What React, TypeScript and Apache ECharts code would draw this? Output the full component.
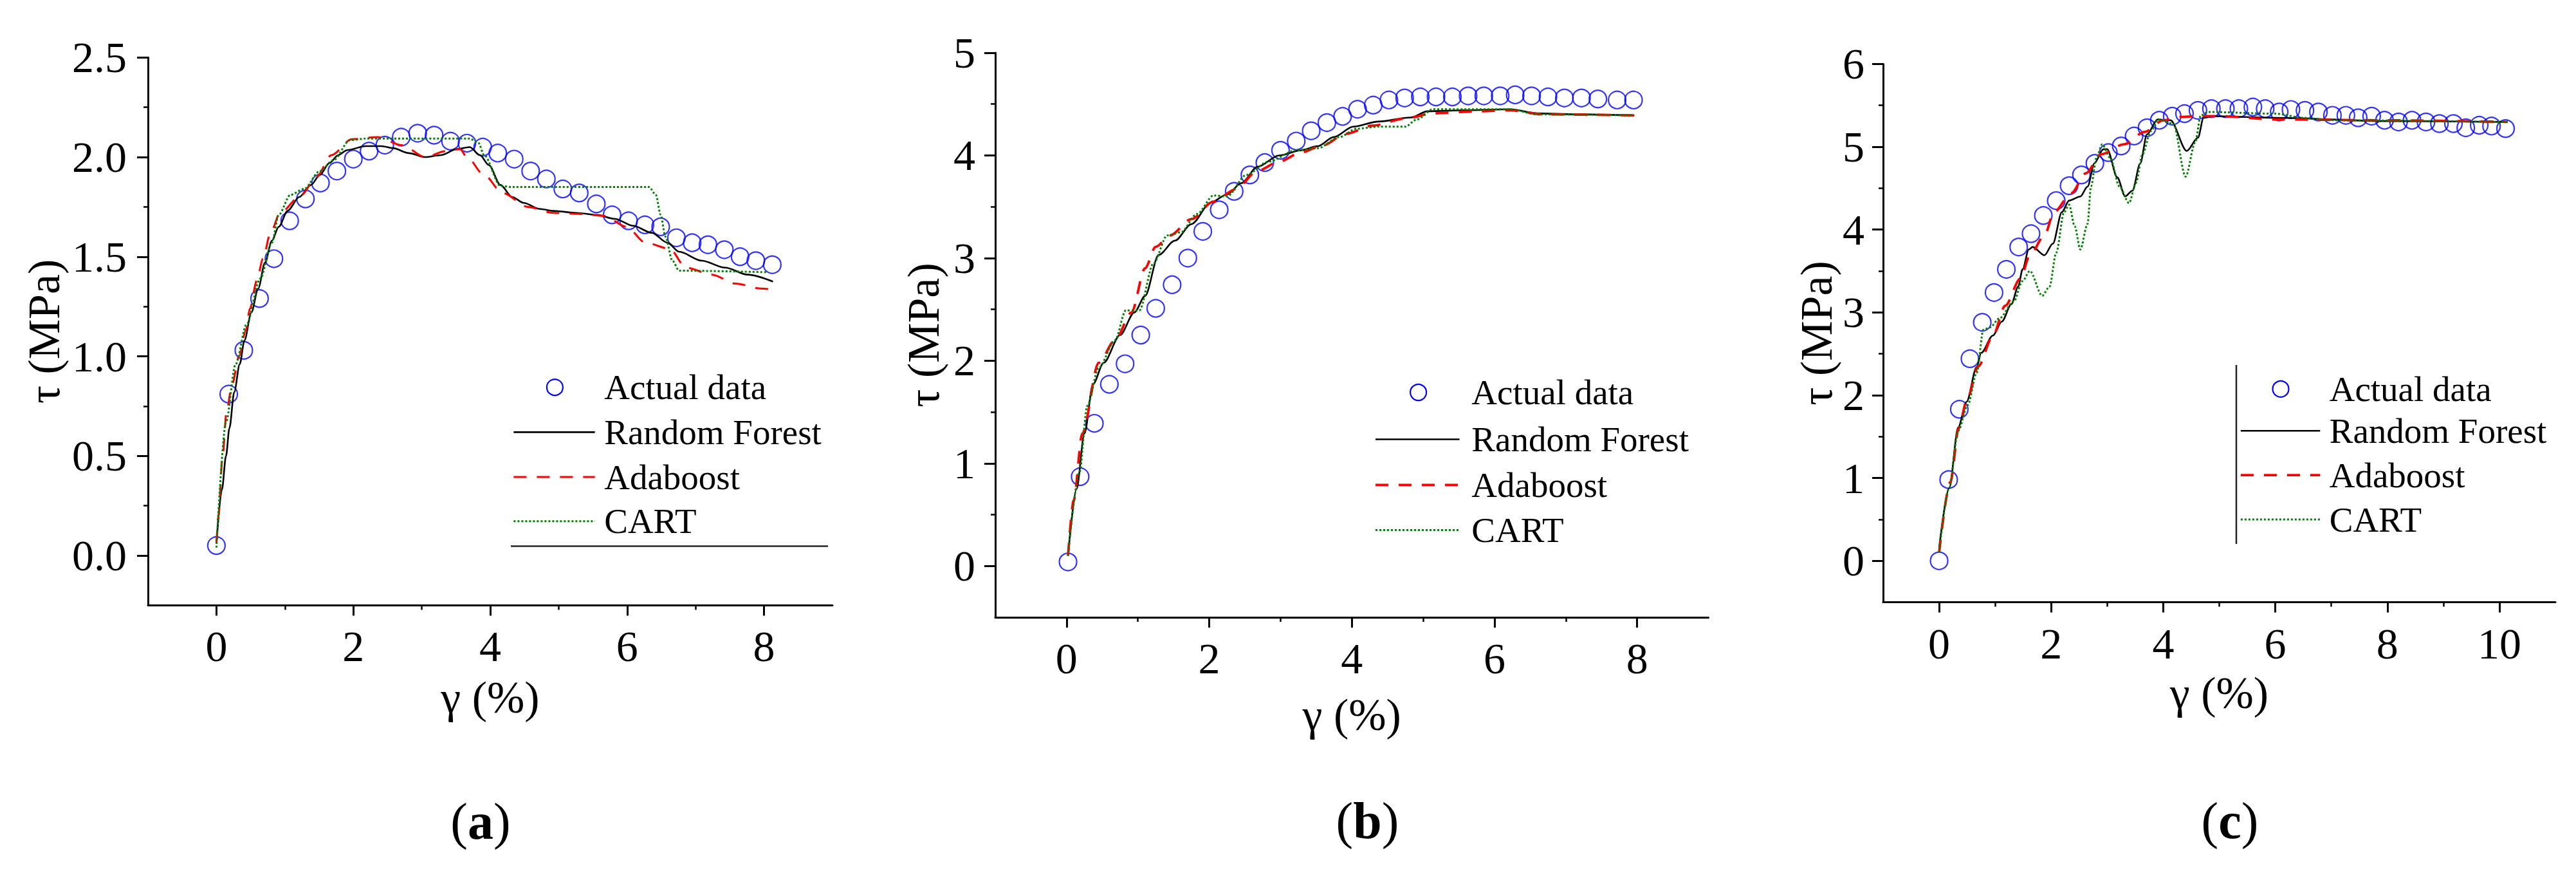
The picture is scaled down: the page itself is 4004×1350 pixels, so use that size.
import React, { useEffect, useRef } from 'react';
import * as echarts from 'echarts';

// ---------- tick labels ----------
const xTicksAB = [0, 2, 4, 6, 8];
const xTicksC = [0, 2, 4, 6, 8, 10];
const yTicksA = [0, 0.5, 1, 1.5, 2, 2.5];
const yTicksB = [0, 1, 2, 3, 4, 5];
const yTicksC = [0, 1, 2, 3, 4, 5, 6];
const seriesNames = ['Actual data', 'Random Forest', 'Adaboost', 'CART'];
const panelLetters = ['a', 'b', 'c'];

// ---------- panel (a) ----------
const aActual = [[0,0.05],[0.18,0.81],[0.40,1.03],[0.63,1.29],[0.84,1.49],[1.07,1.68],[1.30,1.79],[1.52,1.87],[1.76,1.93],[2.0,1.99],[2.23,2.03],[2.46,2.06],[2.70,2.10],[2.94,2.12],[3.18,2.11],[3.42,2.08],[3.66,2.07],[3.89,2.05],[4.11,2.02],[4.35,1.99],[4.59,1.93],[4.82,1.89],[5.06,1.84],[5.30,1.82],[5.55,1.765],[5.78,1.71],[6.02,1.68],[6.26,1.66],[6.49,1.65],[6.72,1.595],[6.95,1.57],[7.18,1.56],[7.42,1.535],[7.65,1.50],[7.88,1.48],[8.12,1.46]];
const aRF = [[0,0.06],[0.08,0.33],[0.14,0.5],[0.19,0.64],[0.26,0.82],[0.34,0.96],[0.41,1.08],[0.51,1.22],[0.61,1.34],[0.71,1.47],[0.81,1.58],[0.91,1.65],[1.04,1.73],[1.21,1.80],[1.38,1.86],[1.51,1.91],[1.65,1.97],[1.78,2.01],[1.91,2.035],[2.18,2.055],[2.41,2.055],[2.58,2.045],[2.81,2.02],[3.05,2.00],[3.28,2.01],[3.51,2.04],[3.70,2.05],[3.85,2.01],[3.98,1.96],[4.15,1.86],[4.32,1.80],[4.49,1.77],[4.72,1.74],[4.92,1.73],[5.26,1.72],[5.56,1.71],[5.82,1.69],[6.09,1.655],[6.36,1.62],[6.59,1.57],[6.76,1.525],[7.09,1.48],[7.43,1.445],[7.76,1.41],[8.13,1.375]];
const aAda = [[0,0.06],[0.03,0.2],[0.09,0.5],[0.15,0.73],[0.23,0.86],[0.33,1.0],[0.43,1.13],[0.49,1.24],[0.59,1.38],[0.68,1.49],[0.79,1.62],[0.93,1.72],[1.24,1.81],[1.46,1.90],[1.68,2.01],[1.98,2.09],[2.35,2.10],[2.71,2.06],[3.05,2.00],[3.35,2.03],[3.56,2.04],[3.66,2.0],[3.91,1.91],[4.18,1.82],[4.55,1.75],[4.92,1.72],[5.29,1.715],[5.66,1.705],[5.99,1.65],[6.27,1.57],[6.62,1.54],[6.86,1.445],[7.24,1.41],[7.58,1.365],[7.96,1.34],[8.13,1.335]];
const aCART = [[0,0.04],[0.14,0.67],[0.28,0.96],[0.44,1.16],[0.64,1.39],[0.81,1.57],[0.91,1.71],[1.08,1.81],[1.28,1.84],[1.51,1.93],[1.71,1.985],[1.95,2.085],[2.18,2.093],[3.70,2.093],[3.83,2.07],[3.91,2.01],[4.15,1.855],[4.32,1.85],[6.32,1.85],[6.42,1.81],[6.49,1.71],[6.56,1.60],[6.66,1.48],[6.76,1.43],[8.06,1.422]];

// ---------- panel (b) ----------
const bActual = [[0.02,0.04],[0.19,0.87],[0.39,1.39],[0.60,1.77],[0.82,1.97],[1.04,2.25],[1.25,2.51],[1.48,2.74],[1.70,3.00],[1.91,3.26],[2.14,3.47],[2.35,3.65],[2.57,3.81],[2.78,3.93],[3.00,4.05],[3.22,4.14],[3.43,4.24],[3.65,4.32],[3.87,4.38],[4.08,4.45],[4.30,4.49],[4.52,4.54],[4.74,4.56],[4.96,4.57],[5.18,4.57],[5.41,4.57],[5.63,4.58],[5.85,4.58],[6.08,4.58],[6.29,4.59],[6.52,4.58],[6.75,4.57],[6.98,4.56],[7.22,4.56],[7.45,4.55],[7.72,4.54],[7.95,4.54]];
const bRF = [[0.02,0.1],[0.14,0.75],[0.25,1.29],[0.37,1.77],[0.52,1.98],[0.75,2.25],[0.95,2.47],[1.10,2.63],[1.29,3.03],[1.52,3.17],[1.75,3.33],[2.02,3.54],[2.25,3.62],[2.45,3.73],[2.68,3.89],[2.98,4.0],[3.29,4.05],[3.52,4.09],[3.75,4.18],[4.02,4.28],[4.37,4.33],[4.83,4.37],[5.06,4.43],[5.6,4.44],[6.22,4.45],[6.6,4.41],[7.14,4.40],[7.96,4.39]];
const bAda = [[0.02,0.1],[0.1,0.64],[0.22,1.29],[0.45,1.98],[0.68,2.2],[0.91,2.47],[1.10,2.9],[1.25,3.11],[1.45,3.22],[1.75,3.38],[2.06,3.55],[2.37,3.67],[2.68,3.85],[2.98,3.94],[3.29,4.03],[3.6,4.1],[3.91,4.21],[4.29,4.29],[4.75,4.36],[5.14,4.41],[5.75,4.43],[6.22,4.44],[6.68,4.40],[7.96,4.39]];
const bCART = [[0.02,0.1],[0.18,0.91],[0.29,1.56],[0.45,1.93],[0.68,2.2],[0.83,2.49],[1.02,2.49],[1.22,2.95],[1.41,3.22],[1.6,3.25],[1.83,3.43],[2.06,3.61],[2.25,3.6],[2.52,3.81],[2.83,3.94],[3.22,4.05],[3.52,4.07],[3.83,4.18],[4.06,4.26],[4.37,4.28],[4.75,4.28],[4.91,4.35],[5.14,4.45],[5.6,4.45],[6.22,4.45],[6.6,4.40],[7.96,4.39]];

// ---------- panel (c) ----------
const cActual = [[0,0],[0.17,0.98],[0.36,1.83],[0.55,2.44],[0.77,2.88],[0.98,3.24],[1.2,3.52],[1.42,3.79],[1.64,3.95],[1.86,4.17],[2.09,4.35],[2.32,4.53],[2.54,4.66],[2.78,4.8],[3.02,4.93],[3.25,5.01],[3.48,5.13],[3.71,5.23],[3.93,5.32],[4.16,5.37],[4.38,5.40],[4.62,5.44],[4.86,5.46],[5.11,5.46],[5.35,5.46],[5.6,5.48],[5.82,5.46],[6.07,5.42],[6.28,5.45],[6.53,5.44],[6.77,5.42],[7.02,5.38],[7.26,5.38],[7.48,5.35],[7.72,5.37],[7.95,5.32],[8.2,5.30],[8.44,5.32],[8.69,5.30],[8.93,5.28],[9.18,5.28],[9.4,5.23],[9.64,5.26],[9.86,5.25],[10.11,5.22]];
const cRF = [[0,0.15],[0.18,0.88],[0.34,1.61],[0.49,1.92],[0.67,2.34],[0.75,2.51],[0.96,2.72],[1.12,2.89],[1.29,3.10],[1.41,3.31],[1.49,3.52],[1.6,3.76],[1.67,3.79],[1.88,3.69],[2.03,3.83],[2.19,4.21],[2.32,4.35],[2.52,4.40],[2.65,4.52],[2.77,4.80],[2.93,4.97],[3.0,4.97],[3.18,4.63],[3.32,4.40],[3.45,4.47],[3.59,4.80],[3.71,5.15],[3.9,5.33],[4.13,5.32],[4.42,4.95],[4.62,5.11],[4.72,5.35],[4.91,5.37],[6.0,5.35],[8.0,5.31],[10.15,5.30]];
const cAda = [[0,0.1],[0.2,0.95],[0.35,1.6],[0.5,1.95],[0.7,2.35],[0.95,2.7],[1.18,3.08],[1.45,3.41],[1.62,3.69],[1.88,3.93],[2.05,4.21],[2.36,4.44],[2.62,4.68],[2.89,4.91],[3.30,5.03],[3.67,5.18],[4.0,5.32],[4.3,5.36],[4.6,5.37],[5.0,5.37],[6.0,5.33],[8.0,5.32],[10.15,5.30]];
const cCART = [[0,0.1],[0.18,0.88],[0.34,1.57],[0.51,1.88],[0.67,2.27],[0.79,2.79],[0.91,2.82],[1.08,2.93],[1.33,3.13],[1.49,3.38],[1.62,3.50],[1.84,3.20],[1.97,3.31],[2.09,3.72],[2.23,4.21],[2.32,4.30],[2.42,4.04],[2.52,3.76],[2.65,4.07],[2.71,4.52],[2.81,4.87],[2.91,5.03],[3.05,4.87],[3.22,4.52],[3.39,4.32],[3.51,4.56],[3.63,4.91],[3.78,5.19],[3.91,5.33],[4.18,5.28],[4.40,4.64],[4.57,5.05],[4.67,5.38],[4.81,5.42],[6.0,5.40],[6.5,5.35],[7.0,5.32],[10.15,5.30]];

const FONT = "'Liberation Serif', 'Times New Roman', serif";

const panels = [
  {
    grid: { left: 230, top: 89.3, width: 1064, height: 851.1 },
    xMin: -1, xMax: 9, xSplit: 5, xTicks: xTicksAB,
    yMin: -0.25, yMax: 2.5, ySplit: 5, yTicks: yTicksA, yDigits: 1, yLabelMargin: 33,
    yNameGap: 126.7, xNameGap: 107.6,
    data: [aActual, aRF, aAda, aCART], dashW: 3,
    legend: { cx: 862.4, rows: [601.7, 671.4, 741, 809.7], x0: 798.4, x1: 924.7, tx: 939.2 },
    frame: { x1: 794, y1: 848.4, x2: 1287, y2: 848.4 },
    label: { x: 747, y: 1276 },
  },
  {
    grid: { left: 1547, top: 82, width: 1108.5, height: 877 },
    xMin: -1, xMax: 9, xSplit: 5, xTicks: xTicksAB,
    yMin: -0.5, yMax: 5, ySplit: 5, yTicks: yTicksB, yDigits: 0, yLabelMargin: 31,
    yNameGap: 76.7, xNameGap: 116,
    data: [bActual, bRF, bAda, bCART], dashW: 3.8,
    legend: { cx: 2204.6, rows: [609.6, 682.5, 753.4, 823.4], x0: 2138, x1: 2268.6, tx: 2287.3 },
    frame: null,
    label: { x: 2125.4, y: 1275 },
  },
  {
    grid: { left: 2927, top: 99.4, width: 1045, height: 836.1 },
    xMin: -1, xMax: 11, xSplit: 6, xTicks: xTicksC,
    yMin: -0.5, yMax: 6, ySplit: 6, yTicks: yTicksC, yDigits: 0, yLabelMargin: 29,
    yNameGap: 68.6, xNameGap: 106,
    data: [cActual, cRF, cAda, cCART], dashW: 3.8,
    legend: { cx: 3545, rows: [604.3, 669.3, 738.1, 807.1], x0: 3482.9, x1: 3606.3, tx: 3620.7 },
    frame: { x1: 3476, y1: 567, x2: 3476, y2: 845 },
    label: { x: 3466, y: 1275 },
  },
];

const BLUE = '#0000ff';
const RED = '#ff0000';
const GREEN = '#008000';
const BLACK = '#000000';

function buildOption() {
  const grid: any[] = [];
  const xAxis: any[] = [];
  const yAxis: any[] = [];
  const series: any[] = [];
  const graphic: any[] = [];

  panels.forEach((p, i) => {
    grid.push({ ...p.grid, containLabel: false, outerBoundsMode: 'none' });

    const common = {
      type: 'value',
      gridIndex: i,
      nameLocation: 'middle',
      nameTextStyle: { fontSize: 70, fontFamily: FONT, color: BLACK },
      axisLine: { show: true, onZero: false, lineStyle: { color: BLACK, width: 3 } },
      splitLine: { show: false },
      minorSplitLine: { show: false },
      minorTick: { show: true, splitNumber: 2, length: 7, lineStyle: { color: BLACK, width: 2.5 } },
    };

    xAxis.push({
      ...common,
      min: p.xMin, max: p.xMax, splitNumber: p.xSplit,
      name: 'γ (%)', nameGap: p.xNameGap,
      axisTick: { show: true, length: 16, customValues: p.xTicks, lineStyle: { color: BLACK, width: 3 } },
      axisLabel: {
        show: true, customValues: p.xTicks, margin: 30, fontSize: 68, fontFamily: FONT, color: BLACK,
        formatter: (v: number) => String(v),
      },
    });

    yAxis.push({
      ...common,
      min: p.yMin, max: p.yMax, splitNumber: p.ySplit,
      name: 'τ (MPa)', nameGap: p.yNameGap,
      axisTick: { show: true, length: 17, customValues: p.yTicks, lineStyle: { color: BLACK, width: 3 } },
      axisLabel: {
        show: true, customValues: p.yTicks, margin: p.yLabelMargin, fontSize: 68, fontFamily: FONT, color: BLACK,
        formatter: (v: number) => v.toFixed(p.yDigits),
      },
    });

    series.push({
      type: 'scatter', name: seriesNames[0], xAxisIndex: i, yAxisIndex: i,
      data: p.data[0], symbol: 'circle', symbolSize: 27,
      itemStyle: { color: 'rgba(0,0,0,0)', borderColor: BLUE, borderWidth: 2.2 },
      z: 2,
    });
    const lineStyles = [
      { color: BLACK, width: 2.6, type: 'solid' },
      { color: RED, width: p.dashW, type: [20, 16] },
      { color: GREEN, width: 3, type: [3, 3] },
    ];
    for (let k = 1; k <= 3; k++) {
      series.push({
        type: 'line', name: seriesNames[k], xAxisIndex: i, yAxisIndex: i,
        data: p.data[k], symbol: 'none', smooth: 0.3, smoothMonotone: 'x',
        lineStyle: lineStyles[k - 1], z: 3,
      });
    }

    // legend drawn as graphic
    const L = p.legend;
    graphic.push({
      type: 'circle', shape: { cx: L.cx, cy: L.rows[0], r: 12.5 },
      style: { fill: 'none', stroke: BLUE, lineWidth: 2.2 },
    });
    const legendLineStyles = [
      { stroke: BLACK, lineWidth: 2.6 },
      { stroke: RED, lineWidth: p.dashW, lineDash: [20, 16] },
      { stroke: GREEN, lineWidth: 3, lineDash: [3, 3] },
    ];
    for (let k = 1; k <= 3; k++) {
      graphic.push({
        type: 'line', shape: { x1: L.x0, y1: L.rows[k], x2: L.x1, y2: L.rows[k] },
        style: legendLineStyles[k - 1],
      });
    }
    for (let k = 0; k < 4; k++) {
      graphic.push({
        type: 'text', x: L.tx, y: L.rows[k],
        style: {
          text: seriesNames[k], fontSize: 55, fontFamily: FONT, fill: BLACK,
          align: 'left', verticalAlign: 'middle',
        },
      });
    }
    if (p.frame) {
      graphic.push({
        type: 'line', shape: { ...p.frame },
        style: { stroke: '#222222', lineWidth: 2.5 },
      });
    }
    graphic.push({
      type: 'text', x: p.label.x, y: p.label.y,
      style: {
        text: '{p|(}{b|' + panelLetters[i] + '}{p|)}',
        align: 'center', verticalAlign: 'middle',
        rich: {
          p: { fontSize: 80, fontFamily: FONT, fill: BLACK },
          b: { fontSize: 80, fontFamily: FONT, fontWeight: 'bold', fill: BLACK },
        },
      },
    });
  });

  return {
    animation: false,
    backgroundColor: '#ffffff',
    grid, xAxis, yAxis, series, graphic,
  };
}

export default function App() {
  const ref = useRef<HTMLDivElement>(null);
  useEffect(() => {
    if (!ref.current) return;
    const chart = echarts.init(ref.current, undefined, { renderer: 'svg' });
    chart.setOption(buildOption() as any);
    return () => chart.dispose();
  }, []);
  return (
    <div
      ref={ref}
      style={{ position: 'fixed', left: 0, top: 0, width: '4004px', height: '1350px', background: '#ffffff' }}
    />
  );
}
